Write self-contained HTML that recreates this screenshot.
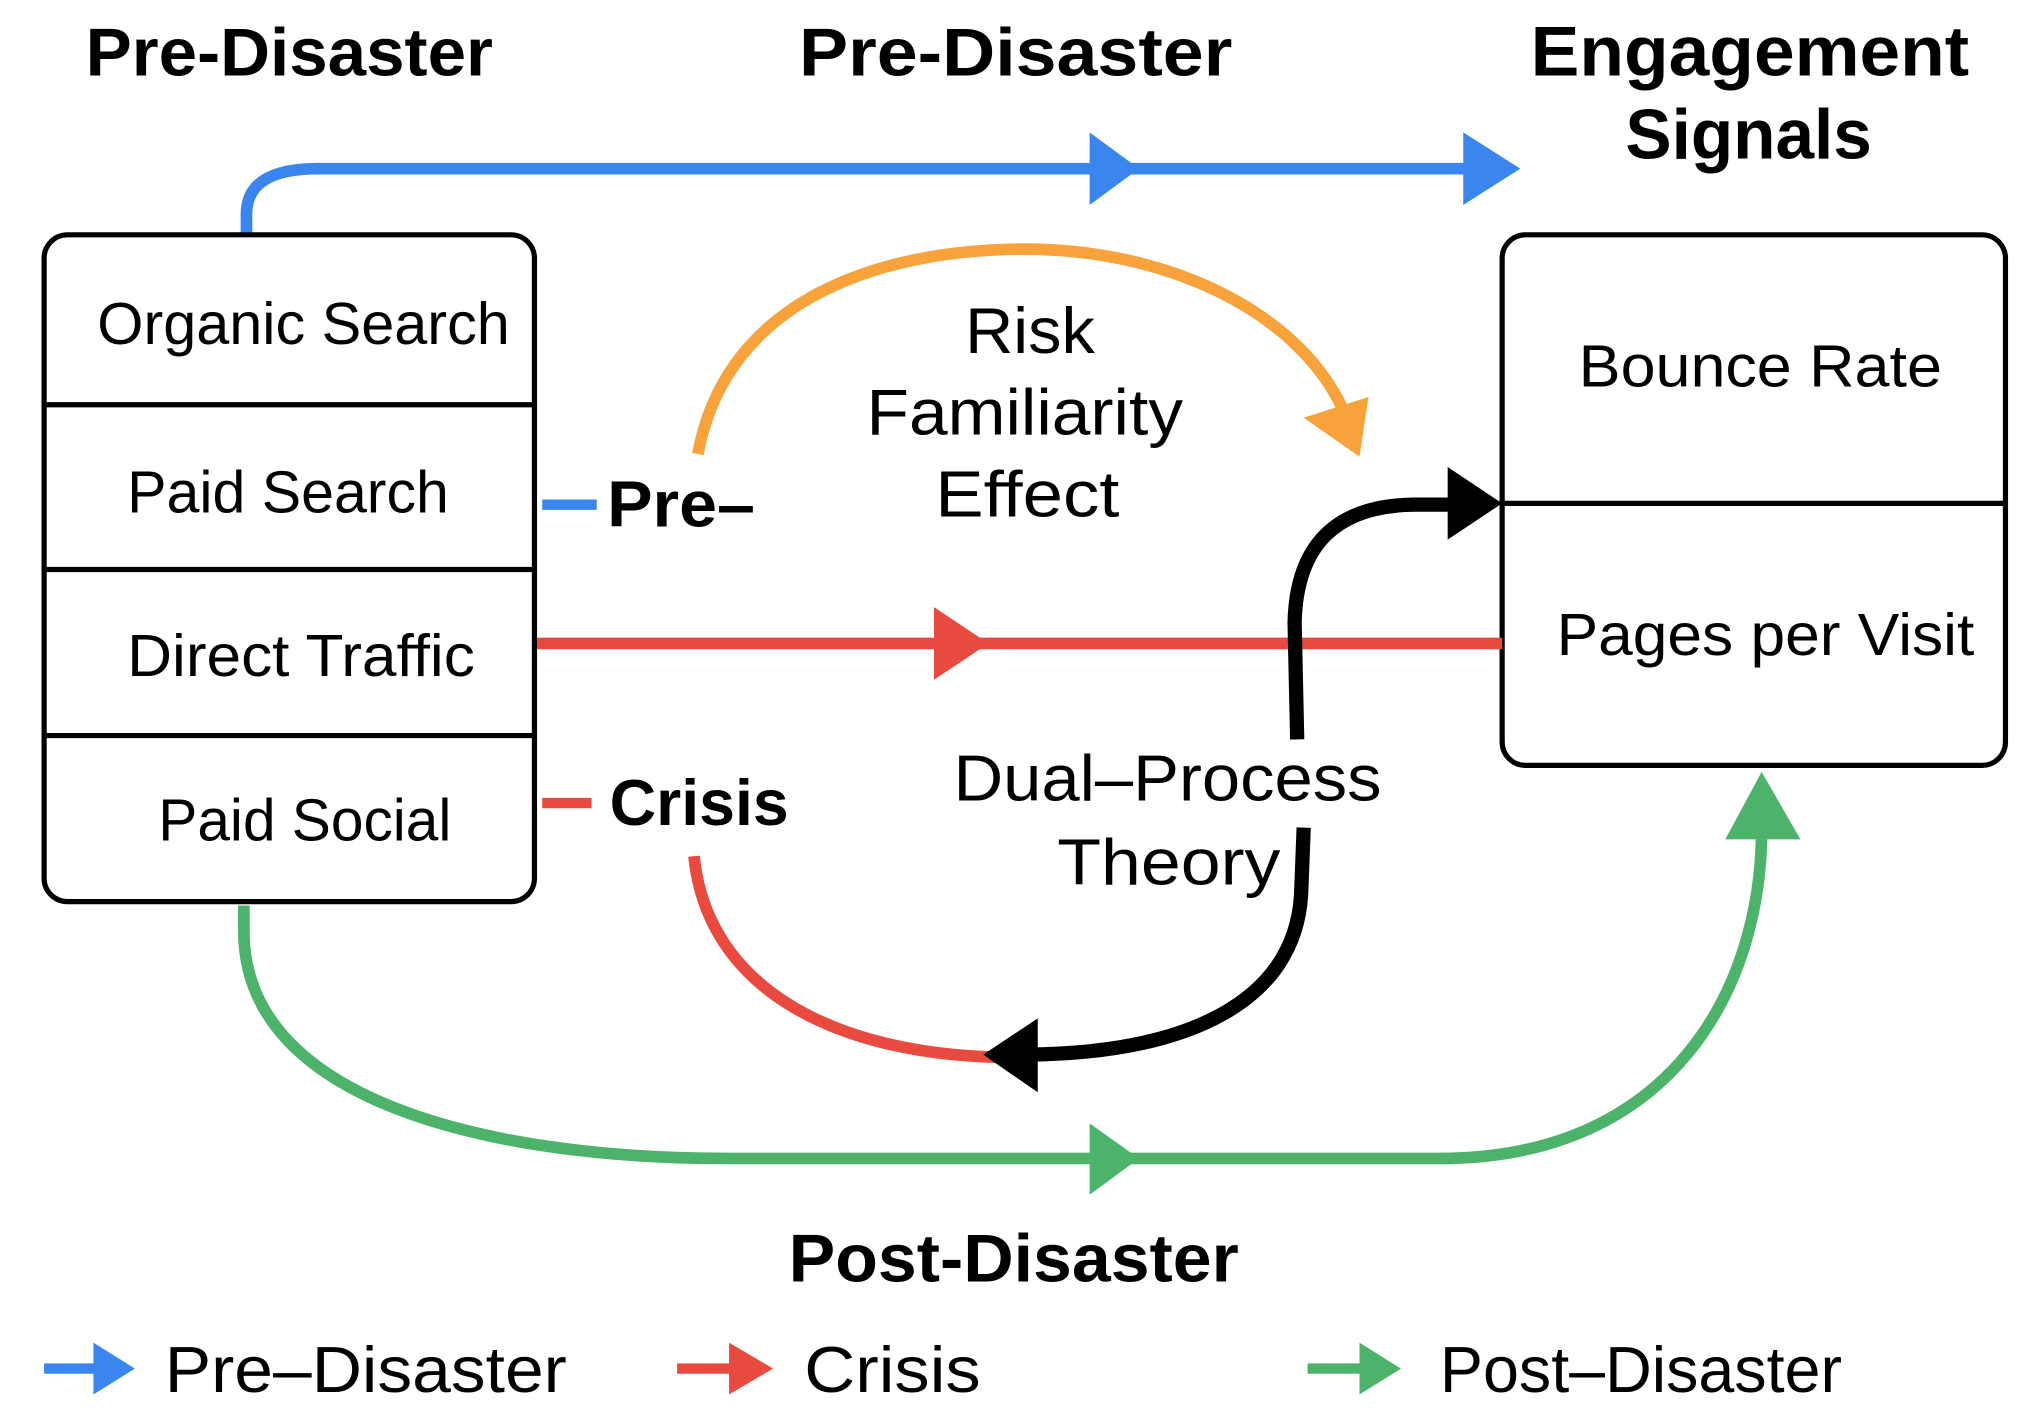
<!DOCTYPE html>
<html><head><meta charset="utf-8"><style>
html,body{margin:0;padding:0;background:#fff;}
svg{display:block;}
text{font-family:"Liberation Sans","DejaVu Sans",sans-serif;fill:#000;}
.b{font-weight:bold;}
</style></head><body>
<svg width="2034" height="1427" viewBox="0 0 1568 1100" xmlns="http://www.w3.org/2000/svg">
<!-- top headers -->
<text class="b" x="66" y="58" font-size="52" textLength="314" lengthAdjust="spacingAndGlyphs">Pre-Disaster</text>
<text class="b" x="616" y="58" font-size="52" textLength="334" lengthAdjust="spacingAndGlyphs">Pre-Disaster</text>
<text class="b" x="1180" y="58" font-size="54" textLength="338" lengthAdjust="spacingAndGlyphs">Engagement</text>
<text class="b" x="1253" y="122" font-size="54" textLength="190" lengthAdjust="spacingAndGlyphs">Signals</text>

<!-- blue top -->
<path d="M190 180 L190 165 Q190 130 245 130 L1140 130" stroke="#3a86ee" stroke-width="9" fill="none"/>
<polygon points="840,102 878,130 840,158" fill="#3a86ee"/>
<polygon points="1128,102 1172,130 1128,158" fill="#3a86ee"/>

<!-- left box -->
<rect x="34" y="181" width="378" height="514" rx="18" fill="none" stroke="#000" stroke-width="4"/>
<line x1="34" y1="312" x2="412" y2="312" stroke="#000" stroke-width="4"/>
<line x1="34" y1="439" x2="412" y2="439" stroke="#000" stroke-width="4"/>
<line x1="34" y1="567" x2="412" y2="567" stroke="#000" stroke-width="4"/>
<text x="75" y="265" font-size="46" textLength="318" lengthAdjust="spacingAndGlyphs">Organic Search</text>
<text x="98" y="395" font-size="46" textLength="248" lengthAdjust="spacingAndGlyphs">Paid Search</text>
<text x="98" y="521" font-size="46" textLength="268" lengthAdjust="spacingAndGlyphs">Direct Traffic</text>
<text x="122" y="648" font-size="46" textLength="226" lengthAdjust="spacingAndGlyphs">Paid Social</text>

<!-- right box -->
<rect x="1158" y="181" width="388" height="409" rx="18" fill="none" stroke="#000" stroke-width="4"/>
<line x1="1158" y1="388" x2="1546" y2="388" stroke="#000" stroke-width="4"/>
<text x="1217" y="298" font-size="46" textLength="280" lengthAdjust="spacingAndGlyphs">Bounce Rate</text>
<text x="1200" y="505" font-size="46" textLength="322" lengthAdjust="spacingAndGlyphs">Pages per Visit</text>

<!-- short stubs -->
<line x1="418" y1="389" x2="460" y2="389" stroke="#3a86ee" stroke-width="8"/>
<text class="b" x="468" y="406" font-size="50" textLength="114" lengthAdjust="spacingAndGlyphs">Pre–</text>
<line x1="418" y1="619" x2="456" y2="619" stroke="#e84a40" stroke-width="8"/>
<text class="b" x="470" y="636" font-size="50" textLength="138" lengthAdjust="spacingAndGlyphs">Crisis</text>

<!-- red horizontal -->
<line x1="414" y1="496" x2="1158" y2="496" stroke="#e84a40" stroke-width="9"/>
<polygon points="720,468 762,496 720,524" fill="#e84a40"/>

<!-- orange arc -->
<path d="M538 350 C560 230 680 192 790 192 C900 192 1000 240 1035 315" stroke="#f7a23b" stroke-width="9" fill="none"/>
<polygon points="1005,322 1055,306 1048,352" fill="#f7a23b"/>
<text x="744" y="272" font-size="50" textLength="100" lengthAdjust="spacingAndGlyphs">Risk</text>
<text x="668" y="335" font-size="50" textLength="244" lengthAdjust="spacingAndGlyphs">Familiarity</text>
<text x="721" y="398" font-size="50" textLength="142" lengthAdjust="spacingAndGlyphs">Effect</text>

<!-- black up curve -->
<path d="M1000 570 L998 480 Q1000 390 1090 389 L1125 389" stroke="#000" stroke-width="11" fill="none"/>
<polygon points="1116,360 1158,388 1116,416" fill="#000"/>

<text x="735" y="617" font-size="50" textLength="330" lengthAdjust="spacingAndGlyphs">Dual–Process</text>
<text x="815" y="682" font-size="50" textLength="172" lengthAdjust="spacingAndGlyphs">Theory</text>

<!-- red curve bottom -->
<path d="M535 660 C545 760 640 812 770 815" stroke="#e84a40" stroke-width="9" fill="none"/>
<!-- black down curve -->
<path d="M1005 638 L1003 690 C998 770 920 812 790 813" stroke="#000" stroke-width="11" fill="none"/>
<polygon points="800,785 758,813 800,842" fill="#000"/>

<!-- green -->
<path d="M188 698 L188 720 C190 850 380 893 560 893 L1110 893 C1290 893 1358 760 1358 640" stroke="#4db36a" stroke-width="9" fill="none"/>
<polygon points="840,866 878,893 840,921" fill="#4db36a"/>
<polygon points="1330,647 1358,595 1388,647" fill="#4db36a"/>

<text class="b" x="608" y="988" font-size="52" textLength="347" lengthAdjust="spacingAndGlyphs">Post-Disaster</text>

<!-- legend -->
<line x1="34" y1="1055" x2="80" y2="1055" stroke="#3a86ee" stroke-width="8"/>
<polygon points="72,1035 104,1055 72,1075" fill="#3a86ee"/>
<text x="127" y="1073" font-size="50" textLength="310" lengthAdjust="spacingAndGlyphs">Pre–Disaster</text>
<line x1="522" y1="1055" x2="570" y2="1055" stroke="#e84a40" stroke-width="8"/>
<polygon points="562,1035 596,1055 562,1075" fill="#e84a40"/>
<text x="620" y="1073" font-size="50" textLength="136" lengthAdjust="spacingAndGlyphs">Crisis</text>
<line x1="1008" y1="1055" x2="1055" y2="1055" stroke="#4db36a" stroke-width="8"/>
<polygon points="1048,1035 1080,1055 1048,1075" fill="#4db36a"/>
<text x="1110" y="1073" font-size="50" textLength="310" lengthAdjust="spacingAndGlyphs">Post–Disaster</text>
</svg>
</body></html>
